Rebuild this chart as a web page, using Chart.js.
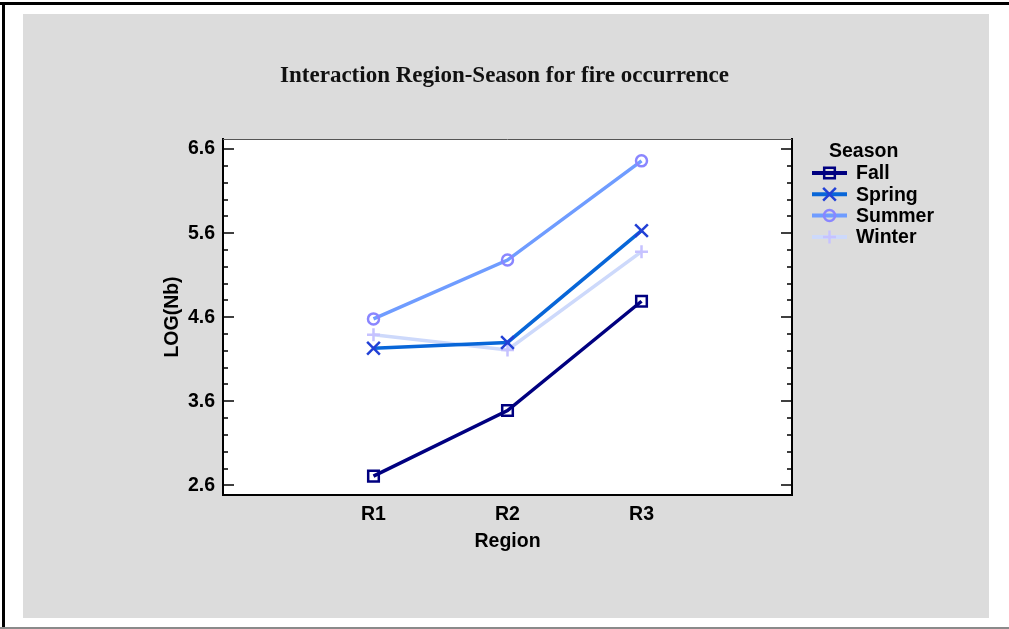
<!DOCTYPE html>
<html><head><meta charset="utf-8">
<script src="https://cdn.jsdelivr.net/npm/chart.js@4/dist/chart.umd.min.js"></script>
<style>html,body{margin:0;padding:0;background:#fff;overflow:hidden}canvas{display:block}</style>
</head><body>
<canvas id="c" width="1009" height="629"></canvas>
<script>
// ---- data ----
const regions = ['R1', 'R2', 'R3'];
const seasons = ['Fall', 'Spring', 'Summer', 'Winter'];
const fallValues   = [2.71, 3.49, 4.79];
const springValues = [4.23, 4.30, 5.63];
const summerValues = [4.58, 5.28, 6.46];
const winterValues = [4.39, 4.21, 5.38];
const yTickValues = [2.6, 3.6, 4.6, 5.6, 6.6];
const chartTitle = 'Interaction Region-Season for fire occurrence';
const xTitle = 'Region';
const yTitle = 'LOG(Nb)';
const legendTitle = 'Season';

// ---- styles ----
const seriesValues = [fallValues, springValues, summerValues, winterValues];
const lineColors   = ['#000080', '#0866D8', '#6F9CFF', '#CDD9FB'];
const markerColors = ['#000080', '#2240D6', '#8A86FF', '#C6C2FF'];
const markerStyles = ['rect', 'crossRot', 'circle', 'cross'];
const markerRadius = [7.5, 9, 5.5, 6.5];
const FONT = '"Liberation Sans", Arial, Helvetica, sans-serif';
const FS = 19.5;

Chart.defaults.font.family = FONT;
Chart.defaults.color = '#000';

const datasets = seasons.map((s, k) => ({
  label: s,
  data: seriesValues[k].map((v, i) => ({ x: i + 1, y: v })),
  borderColor: lineColors[k],
  borderWidth: 3.5,
  pointStyle: markerStyles[k],
  pointRadius: markerRadius[k],
  pointHoverRadius: markerRadius[k],
  pointBorderColor: markerColors[k],
  pointBackgroundColor: 'rgba(0,0,0,0)',
  pointBorderWidth: 2.5,
  tension: 0,
  fill: false
}));

const backgroundPlugin = {
  id: 'bg',
  beforeDraw(chart) {
    const ctx = chart.ctx, a = chart.chartArea;
    ctx.save();
    ctx.fillStyle = '#fff';
    ctx.fillRect(0, 0, chart.width, chart.height);
    ctx.fillStyle = '#000';
    ctx.fillRect(0, 2, chart.width, 3);
    ctx.fillRect(2, 2, 3, chart.height);
    ctx.fillStyle = '#8a8a8a';
    ctx.fillRect(0, 627, chart.width, 2);
    ctx.fillStyle = '#dcdcdc';
    ctx.fillRect(23, 14, 966, 604);
    ctx.fillStyle = '#fff';
    ctx.fillRect(a.left, a.top, a.right - a.left, a.bottom - a.top);
    ctx.restore();
  }
};

const frameTicksPlugin = {
  id: 'frameTicks',
  beforeDatasetsDraw(chart) {
    const ctx = chart.ctx, a = chart.chartArea, y = chart.scales.y;
    ctx.save();
    ctx.strokeStyle = '#555';
    ctx.lineWidth = 1;
    ctx.beginPath();
    ctx.moveTo(a.left, a.top + 0.5);
    ctx.lineTo(a.right, a.top + 0.5);
    ctx.stroke();
    ctx.strokeStyle = '#000';
    ctx.lineWidth = 1.5;
    const first = yTickValues[0], last = yTickValues[yTickValues.length - 1];
    const n = Math.round((last - first) / 0.2);
    for (let i = 0; i <= n; i++) {
      const v = first + i * 0.2;
      const major = i % 5 === 0;
      const len = major ? 11 : 5;
      const py = Math.round(y.getPixelForValue(v));
      ctx.beginPath();
      ctx.moveTo(a.left, py);
      ctx.lineTo(a.left + len, py);
      ctx.moveTo(a.right, py);
      ctx.lineTo(a.right - len, py);
      ctx.stroke();
    }
    ctx.restore();
  }
};

const legendPlugin = {
  id: 'customLegend',
  afterDraw(chart) {
    const ctx = chart.ctx;
    ctx.save();
    ctx.font = 'bold ' + FS + 'px ' + FONT;
    ctx.fillStyle = '#000';
    ctx.textBaseline = 'middle';
    ctx.textAlign = 'left';
    ctx.fillText(legendTitle, 829, 152);
    chart.data.datasets.forEach((ds, k) => {
      const yy = 173 + k * 21.3;
      ctx.strokeStyle = ds.borderColor;
      ctx.lineWidth = 4;
      ctx.beginPath();
      ctx.moveTo(812, yy);
      ctx.lineTo(847, yy);
      ctx.stroke();
      ctx.strokeStyle = ds.pointBorderColor;
      ctx.fillStyle = 'rgba(0,0,0,0)';
      ctx.lineWidth = ds.pointBorderWidth;
      Chart.helpers.drawPoint(ctx, { pointStyle: ds.pointStyle, radius: ds.pointRadius, borderWidth: ds.pointBorderWidth, rotation: 0 }, 829.5, yy);
      ctx.fillStyle = '#000';
      ctx.fillText(ds.label, 856, yy + 1);
    });
    ctx.restore();
  }
};

new Chart(document.getElementById('c'), {
  type: 'line',
  data: { datasets },
  plugins: [backgroundPlugin, frameTicksPlugin, legendPlugin],
  options: {
    responsive: false,
    animation: false,
    devicePixelRatio: 1,
    layout: { padding: 0 },
    plugins: {
      legend: { display: false },
      tooltip: { enabled: false },
      title: {
        display: true,
        text: chartTitle,
        color: '#111',
        font: { family: '"Liberation Serif", "Times New Roman", serif', size: 23, weight: 'bold' },
        padding: { top: 62, bottom: 49.4 }
      }
    },
    scales: {
      x: {
        type: 'linear',
        position: 'bottom',
        min: -0.123, max: 4.123,
        afterBuildTicks: s => { s.ticks = regions.map((r, i) => ({ value: i + 1 })); },
        afterFit: s => { s.height = 134; },
        ticks: { callback: v => regions[Math.round(v) - 1], padding: 8, font: { size: FS, weight: 'bold' }, color: '#000', maxRotation: 0, autoSkip: false },
        grid: { display: false, drawTicks: false },
        border: { display: true, color: '#000', width: 2 },
        title: { display: true, text: xTitle, font: { size: FS, weight: 'bold' }, color: '#000', padding: { top: 0, bottom: 76 } }
      },
      y: {
        type: 'linear',
        position: 'left',
        min: 2.485, max: 6.72,
        afterBuildTicks: s => { s.ticks = yTickValues.map(v => ({ value: v })); },
        afterFit: s => { s.width = 223; },
        ticks: { callback: v => Number(v).toFixed(1), padding: 8, font: { size: FS, weight: 'bold' }, color: '#000', autoSkip: false },
        grid: { display: false, drawTicks: false },
        border: { display: true, color: '#000', width: 2 },
        title: { display: true, text: yTitle, font: { size: FS, weight: 'bold' }, color: '#000', padding: { top: 161, bottom: 0 } }
      },
      y2: {
        type: 'linear',
        position: 'right',
        min: 2.485, max: 6.72,
        afterFit: s => { s.width = 217; },
        ticks: { display: false },
        grid: { display: false, drawTicks: false },
        border: { display: true, color: '#000', width: 2 }
      }
    }
  }
});
</script>
</body></html>
